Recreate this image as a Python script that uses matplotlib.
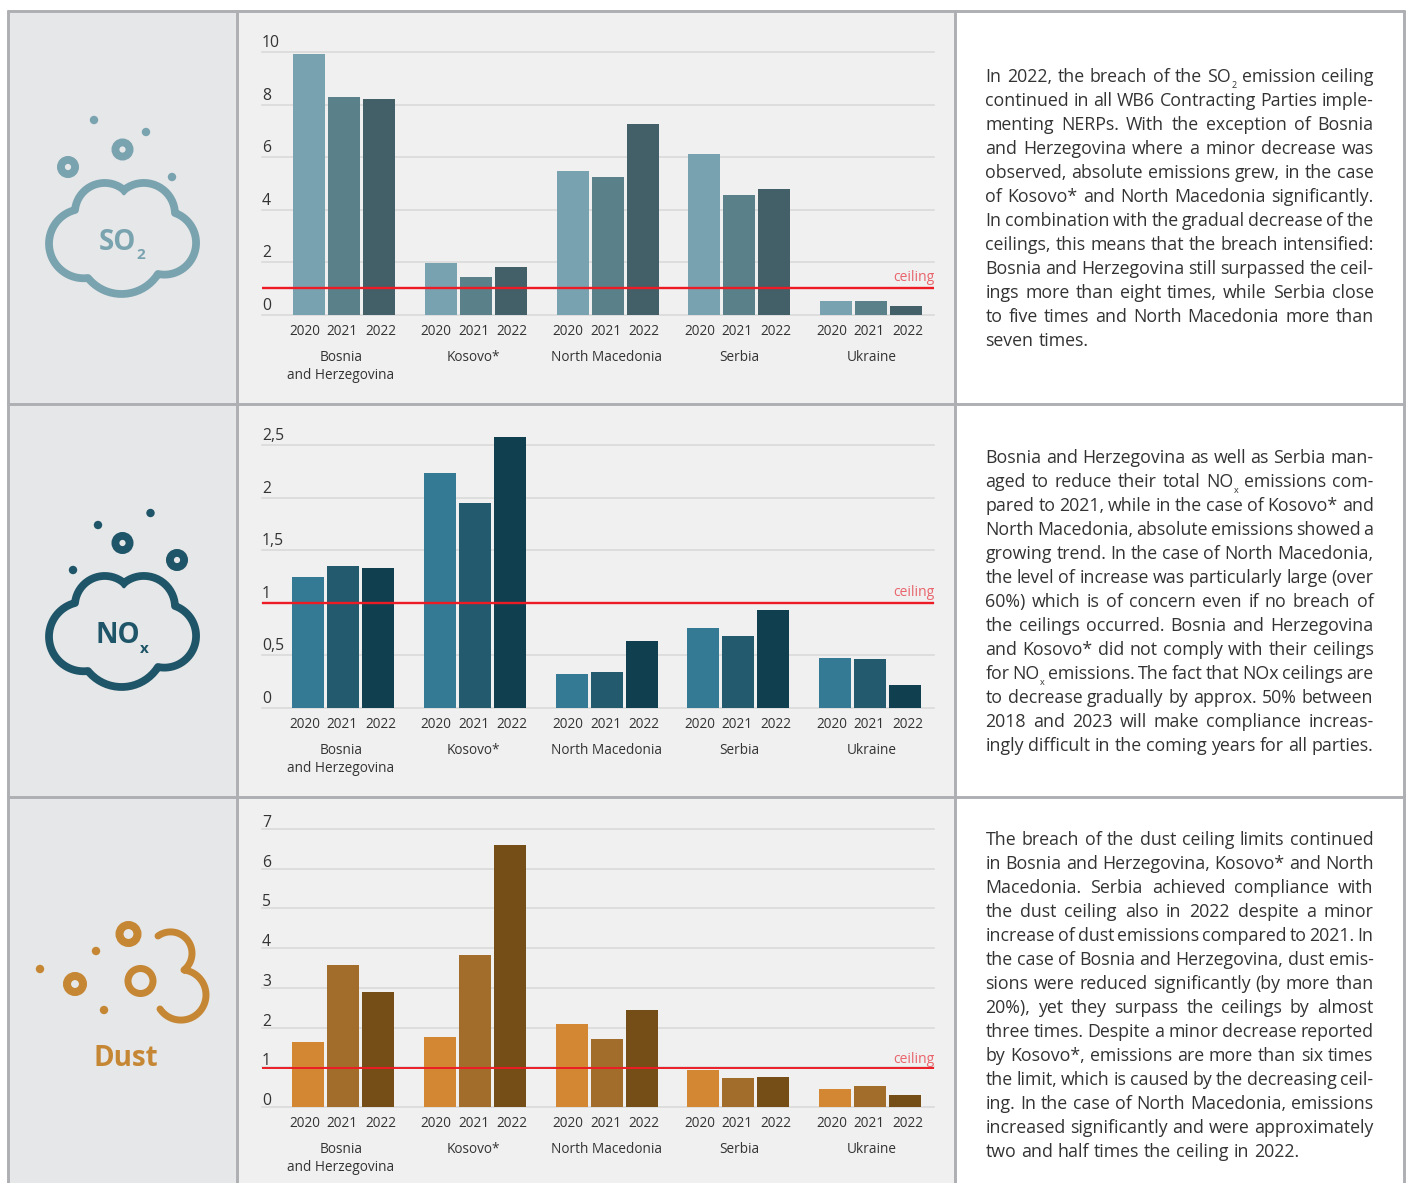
import numpy as np
import matplotlib
matplotlib.use("Agg")
import matplotlib.pyplot as plt
from matplotlib.patches import Rectangle, Circle
from matplotlib.transforms import ScaledTranslation

W, H = 1408, 1183
plt.rcParams['font.family'] = ['Open Sans', 'DejaVu Sans']

countries = ["Bosnia\nand Herzegovina", "Kosovo*", "North Macedonia", "Serbia", "Ukraine"]
years = ["2020", "2021", "2022"]

so2_2020 = [9.92, 1.98, 5.48, 6.12, 0.53]
so2_2021 = [8.29, 1.44, 5.25, 4.56, 0.53]
so2_2022 = [8.21, 1.82, 7.26, 4.79, 0.34]
so2_ceiling = 1.03
so2_ticks = [0, 2, 4, 6, 8, 10]
so2_ticklabels = ["0", "2", "4", "6", "8", "10"]

nox_2020 = [1.25, 2.23, 0.32, 0.76, 0.48]
nox_2021 = [1.35, 1.95, 0.34, 0.68, 0.47]
nox_2022 = [1.33, 2.58, 0.64, 0.93, 0.22]
nox_ceiling = 1.0
nox_ticks = [0, 0.5, 1, 1.5, 2, 2.5]
nox_ticklabels = ["0", "0,5", "1", "1,5", "2", "2,5"]

dust_2020 = [1.64, 1.76, 2.09, 0.93, 0.45]
dust_2021 = [3.58, 3.83, 1.71, 0.73, 0.53]
dust_2022 = [2.90, 6.60, 2.44, 0.76, 0.30]
dust_ceiling = 0.98
dust_ticks = [0, 1, 2, 3, 4, 5, 6, 7]
dust_ticklabels = ["0", "1", "2", "3", "4", "5", "6", "7"]

so2_text = [
    "In 2022, the breach of the SO_2 emission ceiling",
    "continued in all WB6 Contracting Parties imple-",
    "menting NERPs. With the exception of Bosnia",
    "and Herzegovina where a minor decrease was",
    "observed, absolute emissions grew, in the case",
    "of Kosovo* and North Macedonia significantly.",
    "In combination with the gradual decrease of the",
    "ceilings, this means that the breach intensified:",
    "Bosnia and Herzegovina still surpassed the ceil-",
    "ings more than eight times, while Serbia close",
    "to five times and North Macedonia more than",
    "seven times.",
]
nox_text = [
    "Bosnia and Herzegovina as well as Serbia man-",
    "aged to reduce their total NO_x emissions com-",
    "pared to 2021, while in the case of Kosovo* and",
    "North Macedonia, absolute emissions showed a",
    "growing trend. In the case of North Macedonia,",
    "the level of increase was particularly large (over",
    "60%) which is of concern even if no breach of",
    "the ceilings occurred. Bosnia and Herzegovina",
    "and Kosovo* did not comply with their ceilings",
    "for NO_x emissions. The fact that NOx ceilings are",
    "to decrease gradually by approx. 50% between",
    "2018 and 2023 will make compliance increas-",
    "ingly difficult in the coming years for all parties.",
]
dust_text = [
    "The breach of the dust ceiling limits continued",
    "in Bosnia and Herzegovina, Kosovo* and North",
    "Macedonia. Serbia achieved compliance with",
    "the dust ceiling also in 2022 despite a minor",
    "increase of dust emissions compared to 2021. In",
    "the case of Bosnia and Herzegovina, dust emis-",
    "sions were reduced significantly (by more than",
    "20%), yet they surpass the ceilings by almost",
    "three times. Despite a minor decrease reported",
    "by Kosovo*, emissions are more than six times",
    "the limit, which is caused by the decreasing ceil-",
    "ing. In the case of North Macedonia, emissions",
    "increased significantly and were approximately",
    "two and half times the ceiling in 2022.",
]

fig = plt.figure(figsize=(W / 100, H / 100), dpi=100, facecolor="white")

# pixel-coordinate canvas for panels, icons and body text
bg = fig.add_axes([0, 0, 1, 1], zorder=0)
bg.set_xlim(0, W)
bg.set_ylim(H, 0)
bg.axis("off")

BORDER = "#adafb2"
bg.add_patch(Rectangle((8, 10), 229, H - 10, fc="#e6e7e8", ec="none"))
bg.add_patch(Rectangle((237, 10), 718, H - 10, fc="#f0f0f0", ec="none"))
for x in (7.7, 236.8, 955, 1404):
    bg.plot([x, x], [9.5, H], color=BORDER, lw=2.1, solid_capstyle="butt")
for y in (10.5, 403.5, 796.5):
    bg.plot([6.5, 1405], [y, y], color=BORDER, lw=2.1, solid_capstyle="butt")


def arc3(p0, p1, p2, n=40):
    (ax_, ay), (bx, by), (cx, cy) = p0, p1, p2
    d = 2 * (ax_ * (by - cy) + bx * (cy - ay) + cx * (ay - by))
    ux = ((ax_**2 + ay**2) * (by - cy) + (bx**2 + by**2) * (cy - ay) + (cx**2 + cy**2) * (ay - by)) / d
    uy = ((ax_**2 + ay**2) * (cx - bx) + (bx**2 + by**2) * (ax_ - cx) + (cx**2 + cy**2) * (bx - ax_)) / d
    r = np.hypot(ax_ - ux, ay - uy)
    a0 = np.arctan2(ay - uy, ax_ - ux)
    a1 = np.arctan2(by - uy, bx - ux)
    a2 = np.arctan2(cy - uy, cx - ux)
    d1 = (a1 - a0) % (2 * np.pi)
    d2 = (a2 - a0) % (2 * np.pi)
    if d1 > d2:
        d2 -= 2 * np.pi
    t = np.linspace(a0, a0 + d2, n)
    return ux + r * np.cos(t), uy + r * np.sin(t)


def cloud(dy, color):
    segs = [
        ((124, 190), (146, 183), (175, 213)),
        ((175, 213), (196, 245), (158, 274)),
        ((158, 274), (122, 294), (88, 278)),
        ((88, 278), (49, 244), (75, 210)),
        ((75, 210), (103, 183), (124, 190)),
    ]
    xs, ys = [], []
    for a, b, c in segs:
        x, y = arc3(a, b, c)
        xs.extend(x)
        ys.extend(y)
    bg.plot(xs, np.array(ys) + dy, color=color, lw=5.6, solid_joinstyle="round")


def ring(x, y, r, hole, color):
    rm = (r + hole) / 2
    bg.add_patch(Circle((x, y), rm, fc="none", ec=color, lw=(r - hole) * 0.72))


def dot(x, y, r, color):
    bg.add_patch(Circle((x, y), r, fc=color, ec="none"))


C_SO2, C_NOX, C_DUST = "#7aa3b0", "#1f5568", "#c68735"

cloud(0, C_SO2)
ring(68, 167, 11, 3.2, C_SO2)
ring(122.5, 149.5, 11, 3.2, C_SO2)
dot(94, 120, 4.2, C_SO2)
dot(146, 132, 4.2, C_SO2)
dot(172, 177, 4.2, C_SO2)
bg.text(117.5, 250, "SO", color=C_SO2, fontsize=20, fontweight="bold", ha="center", va="baseline")
bg.text(141, 259, "2", color=C_SO2, fontsize=11, fontweight="bold", ha="center", va="baseline")

cloud(393, C_NOX)
ring(122.5, 543, 11, 3.2, C_NOX)
ring(177, 560, 11, 3.2, C_NOX)
dot(98, 525, 4.2, C_NOX)
dot(150.5, 513, 4.2, C_NOX)
dot(73, 570, 4.2, C_NOX)
bg.text(118, 643, "NO", color=C_NOX, fontsize=20, fontweight="bold", ha="center", va="baseline")
bg.text(144, 653, "x", color=C_NOX, fontsize=11, fontweight="bold", ha="center", va="baseline")

ring(128.5, 934, 13, 5, C_DUST)
ring(140.5, 981, 16, 9, C_DUST)
ring(75, 984, 12, 4, C_DUST)
dot(96, 951, 4.2, C_DUST)
dot(40, 969, 4.2, C_DUST)
dot(104, 1010, 4.2, C_DUST)
x1, y1 = arc3((158, 936), (192, 953), (184, 970))
x2, y2 = arc3((184, 970), (206, 995), (160, 1009))
bg.plot(np.r_[x1, x2], np.r_[y1, y2], color=C_DUST, lw=5.0, solid_capstyle="round", solid_joinstyle="round")
bg.text(126, 1066, "Dust", color=C_DUST, fontsize=20, fontweight="bold", ha="center", va="baseline")


# justified body text
renderer = fig.canvas.get_renderer()
TXT = "#333333"
FS = 12.8
X0, X1 = 985.5, 1373.5


def width(t):
    return t.get_window_extent(renderer).width


def paragraph(lines, y0, justify_last):
    for i, line in enumerate(lines):
        y = y0 + 24 * i
        pieces = []
        for word in line.split(" "):
            if "_" in word:
                base, sub = word.split("_")
                a = bg.text(0, y, base, fontsize=FS, color=TXT, va="baseline", ha="left")
                b = bg.text(0, y + 6, sub, fontsize=6.5, color=TXT, va="baseline", ha="left")
                arts = [a, b]
            else:
                arts = [bg.text(0, y, word, fontsize=FS, color=TXT, va="baseline", ha="left")]
            pieces.append((arts, [width(a) for a in arts]))
        total = sum(sum(w) for _, w in pieces)
        last = i == len(lines) - 1
        gap = 4.8
        if (not last or justify_last) and len(pieces) > 1:
            gap = (X1 - X0 - total) / (len(pieces) - 1)
        x = X0
        for arts, ws in pieces:
            for a, w in zip(arts, ws):
                a.set_x(x)
                x += w
            x += gap


paragraph(so2_text, 82, False)
paragraph(nox_text, 463, True)
paragraph(dust_text, 845, False)

# charts
AX_L, AX_R = 262, 934
STEP = 131.75
G0 = 344
BAR_W = 32 / STEP
BAR_D = 35 / STEP
YEAR_OFF = [-39.5 / STEP, -2 / STEP, 36.5 / STEP]
NAME_OFF = [-3, -2, -1, 0, 1]


def chart(top, bottom, ymax, series, colors, ceiling, ticks, ticklabels, shift, ceil_lw, ceil_y, ylab_dy):
    ax = fig.add_axes([AX_L / W, 1 - bottom / H, (AX_R - AX_L) / W, (bottom - top) / H], zorder=2)
    ax.patch.set_alpha(0)
    ax.set_xlim((AX_L - G0) / STEP, (AX_R - G0) / STEP)
    ax.set_ylim(0, ymax)
    for s in ax.spines.values():
        s.set_visible(False)
    groups = np.arange(len(countries))
    for j, (vals, col) in enumerate(zip(series, colors)):
        ax.bar(groups + shift / STEP + (j - 1) * BAR_D, vals, width=BAR_W, color=col, zorder=3, clip_on=False)
    ax.set_axisbelow(True)
    ax.yaxis.grid(True, color="#d8d8d8", lw=1.1, zorder=1)
    ax.xaxis.grid(False)
    for g in ax.get_ygridlines():
        g.set_clip_on(False)
    ax.set_yticks(ticks, ticklabels)
    ax.tick_params(axis="y", length=0, pad=0, labelsize=11.3, labelcolor="#333333")
    for t in ax.get_yticklabels():
        t.set_ha("left")
        t.set_va("bottom")
        t.set_transform(t.get_transform() + ScaledTranslation(0, -ylab_dy / 100, fig.dpi_scale_trans))
    xt = [g + o for g in groups for o in YEAR_OFF]
    ax.set_xticks(xt, years * len(groups))
    ax.tick_params(axis="x", length=0, pad=6.7, labelsize=9.8, labelcolor="#333333")
    ax.axhline(ceiling, color="#ed1c24", lw=ceil_lw, zorder=5)
    ax.annotate("ceiling", xy=(1, ceiling), xycoords=("axes fraction", "data"),
                xytext=(0, ceil_y), textcoords="offset pixels", ha="right", va="center",
                color="#e9646c", fontsize=10)
    for g, name, dx in zip(groups, countries, NAME_OFF):
        ax.annotate(name, xy=(g, 0), xycoords=("data", "axes fraction"),
                    xytext=(dx, -35), textcoords="offset pixels", ha="center", va="top",
                    color="#333333", fontsize=9.8, linespacing=1.3)
    return ax


chart(52, 315, 10, [so2_2020, so2_2021, so2_2022], ["#78a2b0", "#5a8089", "#436069"],
      so2_ceiling, so2_ticks, so2_ticklabels, 0, 1.7, 10, -1)
chart(445, 708, 2.5, [nox_2020, nox_2021, nox_2022], ["#347a94", "#235a6e", "#103f50"],
      nox_ceiling, nox_ticks, nox_ticklabels, -1, 1.7, 10, -1)
chart(829, 1107, 7, [dust_2020, dust_2021, dust_2022], ["#d38732", "#a26c2b", "#754e17"],
      dust_ceiling, dust_ticks, dust_ticklabels, -1, 1.4, 9, 2)

fig.savefig("out.png", dpi=100, facecolor="white")
